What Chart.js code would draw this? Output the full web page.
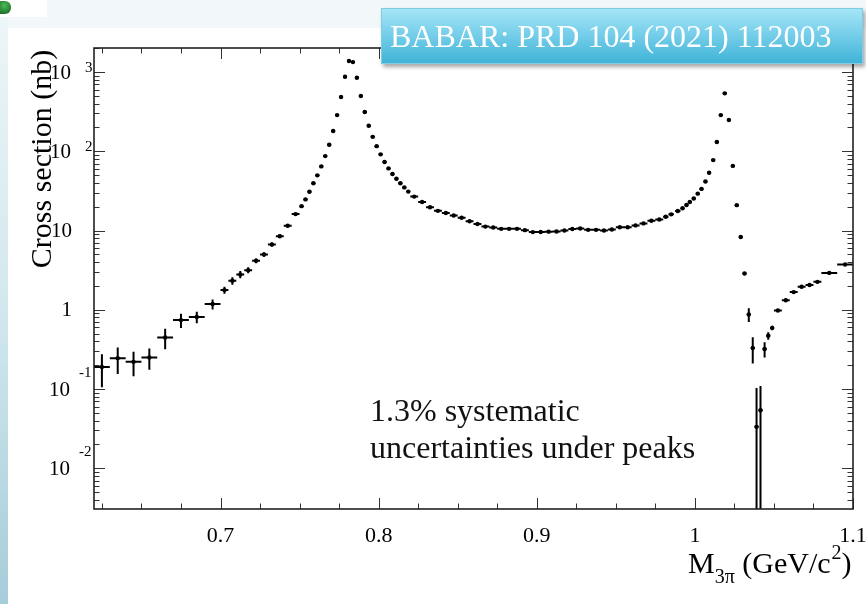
<!DOCTYPE html>
<html>
<head>
<meta charset="utf-8">
<script src="https://cdn.jsdelivr.net/npm/chart.js@4.4.1/dist/chart.umd.min.js"></script>
<style>
html, body { margin:0; padding:0; }
body { width:866px; height:604px; position:relative; overflow:hidden; background:#f2f8fa; font-family:"Liberation Serif", serif; }
#strip { position:absolute; left:0; top:0; width:8px; height:604px; background:linear-gradient(to bottom,#eef6f8 0%,#d3e8ee 50%,#a6cdda 100%); }
#panel { position:absolute; left:8px; top:28px; right:0; bottom:0; background:#fff; }
#logo { position:absolute; left:0; top:0; width:47px; height:17px; background:#fff; }
#logo div { position:absolute; left:0; top:1px; width:11px; height:13px; border-radius:0 6px 6px 0; background:radial-gradient(circle at 40% 35%, #4fb85a, #0f5e1c); }
canvas { position:absolute; left:0; top:0; }
#ref { position:absolute; left:381px; top:8px; width:482px; height:56px; box-sizing:border-box; border:1px solid #7fcde3; background:linear-gradient(to bottom,#a5e5f8,#40b4d8); box-shadow:2px 3px 4px rgba(0,0,0,0.35); color:#fff; font-size:32px; line-height:54px; padding-left:8px; white-space:nowrap; }
#note { position:absolute; left:370px; top:392px; font-size:32px; line-height:37.3px; color:#111; white-space:nowrap; }
</style>
</head>
<body>
<div id="strip"></div>
<div id="panel"></div>
<div id="logo"><div></div></div>
<canvas id="chart" width="866" height="604"></canvas>
<div id="ref">BABAR: PRD 104 (2021) 112003</div>
<div id="note">1.3% systematic<br>uncertainties under peaks</div>
<script>
// e+e- -> 3pi cross section
const mass = [
  0.625, 0.635, 0.645, 0.655, 0.665, 0.675, 0.685, 0.695,
  0.7025, 0.7075, 0.7125, 0.7175, 0.7225, 0.7275, 0.7325, 0.7375, 0.7425, 0.7475,
  0.75125, 0.75375, 0.75625, 0.75875, 0.76125, 0.76375, 0.76625, 0.76875, 0.77125, 0.77375,
  0.77625, 0.77875, 0.78125, 0.78375, 0.78625, 0.78875, 0.79125, 0.79375, 0.79625, 0.79875,
  0.80125, 0.80375, 0.80625, 0.80875, 0.81125, 0.81375, 0.81625, 0.81875,
  0.8225, 0.8275, 0.8325, 0.8375, 0.8425, 0.8475, 0.8525, 0.8575, 0.8625, 0.8675,
  0.8725, 0.8775, 0.8825, 0.8875, 0.8925, 0.8975, 0.9025, 0.9075, 0.9125, 0.9175,
  0.9225, 0.9275, 0.9325, 0.9375, 0.9425, 0.9475, 0.9525, 0.9575, 0.9625, 0.9675,
  0.9725, 0.9775,
  0.9816, 0.985, 0.9892, 0.9922, 0.9947, 0.9968, 0.9993, 1.0018, 1.0042, 1.0067,
  1.009, 1.0116, 1.0139, 1.0164, 1.0189, 1.0215, 1.024, 1.0265, 1.029, 1.0314,
  1.0341, 1.0366, 1.039, 1.0415, 1.0441, 1.0464, 1.0489,
  1.0525, 1.0575, 1.0625, 1.0675, 1.0725, 1.0775, 1.085, 1.095
];
const xsec = [
  0.19, 0.245, 0.22, 0.25, 0.447, 0.74, 0.81, 1.18,
  1.77, 2.32, 2.79, 3.16, 4.15, 4.99, 6.67, 8.49, 11.5, 16.1,
  20.3, 24.7, 30.8, 39.4, 49.7, 64.4, 86.9, 120.8, 180, 286,
  483, 873, 1377, 1335, 848, 498, 313, 210, 152, 116,
  91.4, 73.1, 60.8, 51.6, 45, 39.4, 35, 31,
  26.8, 22.9, 19.7, 17.7, 16.6, 15.5, 14.5, 13.1, 12.1, 11.2,
  10.9, 10.5, 10.5, 10.5, 10.1, 9.55, 9.58, 9.68, 9.72, 9.99,
  10.45, 10.6, 10.2, 10.2, 10.0, 10.3, 11.0, 11.0, 11.6, 12.3,
  13.3, 13.8,
  14.9, 16.0, 17.6, 19.1, 21.0, 22.9, 25.3, 29.2, 33.5, 41.6,
  53.5, 77.4, 131, 286, 538, 248, 65.4, 20.9, 8.3, 2.87,
  0.873, 0.33, 0.0333, 0.054, 0.32, 0.469, 0.59,
  0.98, 1.32, 1.67, 1.95, 2.05, 2.25, 2.92, 3.73
];
const xsecErr = [
  0.085, 0.09, 0.075, 0.075, 0.13, 0.15, 0.135, 0.17,
  0.18, 0.25, 0.3, 0.28, 0.3, 0.33, 0.4, 0.5, 0.5, 0.6,
  0.6, 0.7, 0.8, 0.9, 1.1, 1.3, 1.6, 2.1, 3, 4.5,
  7, 12, 18, 18, 12, 7, 4.5, 3.2, 2.4, 1.9,
  1.6, 1.3, 1.1, 1.0, 0.9, 0.8, 0.7, 0.7,
  0.5, 0.45, 0.4, 0.35, 0.35, 0.3, 0.3, 0.3, 0.3, 0.25,
  0.25, 0.25, 0.25, 0.25, 0.25, 0.25, 0.25, 0.25, 0.25, 0.25,
  0.25, 0.25, 0.25, 0.25, 0.25, 0.25, 0.25, 0.25, 0.25, 0.25,
  0.25, 0.25,
  0.35, 0.4, 0.4, 0.45, 0.5, 0.5, 0.55, 0.6, 0.7, 0.8,
  1.0, 1.4, 2.2, 4, 7, 4, 1.3, 0.6, 0.3, 0.12,
  0.17, 0.12, 0.07, 0.055, 0.07, 0.05, 0.04,
  0.04, 0.06, 0.07, 0.08, 0.08, 0.08, 0.08, 0.1
];
// half bin widths
const binHalf = [
  0.005, 0.005, 0.005, 0.005, 0.005, 0.005, 0.005, 0.005,
  0.0025, 0.0025, 0.0025, 0.0025, 0.0025, 0.0025, 0.0025, 0.0025, 0.0025, 0.0025,
  0.00125, 0.00125, 0.00125, 0.00125, 0.00125, 0.00125, 0.00125, 0.00125, 0.00125, 0.00125,
  0.00125, 0.00125, 0.00125, 0.00125, 0.00125, 0.00125, 0.00125, 0.00125, 0.00125, 0.00125,
  0.00125, 0.00125, 0.00125, 0.00125, 0.00125, 0.00125, 0.00125, 0.00125,
  0.0025, 0.0025, 0.0025, 0.0025, 0.0025, 0.0025, 0.0025, 0.0025, 0.0025, 0.0025,
  0.0025, 0.0025, 0.0025, 0.0025, 0.0025, 0.0025, 0.0025, 0.0025, 0.0025, 0.0025,
  0.0025, 0.0025, 0.0025, 0.0025, 0.0025, 0.0025, 0.0025, 0.0025, 0.0025, 0.0025,
  0.0025, 0.0025,
  0.0017, 0.0017, 0.0017, 0.00125, 0.00125, 0.00125, 0.00125, 0.00125, 0.00125, 0.00125,
  0.00125, 0.00125, 0.00125, 0.00125, 0.00125, 0.00125, 0.00125, 0.00125, 0.00125, 0.00125,
  0.00125, 0.00125, 0.00125, 0.00125, 0.00125, 0.00125, 0.00125,
  0.0025, 0.0025, 0.0025, 0.0025, 0.0025, 0.0025, 0.005, 0.005
];

const xTicks = [0.7, 0.8, 0.9, 1.0, 1.1];
const xTickLabels = ['0.7', '0.8', '0.9', '1', '1.1'];
const yTicks = [1000, 100, 10, 1, 0.1, 0.01];
const yTickBase = ['10', '10', '10', '1', '10', '10'];
const yTickExp = ['3', '2', '', '', '-1', '-2'];

const serif = '"Liberation Serif", "Times New Roman", serif';

const rootFrame = {
  id: 'rootFrame',
  beforeDatasetsDraw(chart) {
    const {ctx, chartArea: a, scales: {x, y}} = chart;
    ctx.save();
    ctx.beginPath();
    ctx.rect(a.left, a.top, a.right - a.left, a.bottom - a.top);
    ctx.clip();
    ctx.strokeStyle = '#000';
    ctx.lineWidth = 2;
    ctx.beginPath();
    for (let i = 0; i < mass.length; i++) {
      const px = x.getPixelForValue(mass[i]);
      const py = y.getPixelForValue(xsec[i]);
      const lo = xsec[i] - xsecErr[i];
      const top = y.getPixelForValue(xsec[i] + xsecErr[i]);
      const bot = lo > 0 ? y.getPixelForValue(lo) : a.bottom;
      ctx.moveTo(px, top);
      ctx.lineTo(px, bot);
      ctx.moveTo(x.getPixelForValue(mass[i] - binHalf[i]), py);
      ctx.lineTo(x.getPixelForValue(mass[i] + binHalf[i]), py);
    }
    ctx.stroke();
    ctx.restore();
  },
  afterDraw(chart) {
    const {ctx, chartArea: a, scales: {x, y}} = chart;
    ctx.save();
    ctx.strokeStyle = '#333';
    ctx.lineWidth = 1;
    ctx.beginPath();
    // x ticks every 0.025, major every 0.1
    for (let i = 25; i <= 44; i++) {
      const px = Math.round(x.getPixelForValue(i * 0.025)) + 0.5;
      const len = i % 4 === 0 ? 11 : 5.5;
      ctx.moveTo(px, a.bottom); ctx.lineTo(px, a.bottom - len);
      ctx.moveTo(px, a.top); ctx.lineTo(px, a.top + len);
    }
    // y ticks on decades and 2..9
    for (let k = -3; k <= 3; k++) {
      for (let m = 1; m <= 9; m++) {
        const v = m * Math.pow(10, k);
        if (v < y.min || v > y.max) continue;
        const py = Math.round(y.getPixelForValue(v)) + 0.5;
        const len = m === 1 ? 11 : 5.5;
        ctx.moveTo(a.left, py); ctx.lineTo(a.left + len, py);
        ctx.moveTo(a.right, py); ctx.lineTo(a.right - len, py);
      }
    }
    ctx.stroke();
    ctx.strokeStyle = '#222';
    ctx.lineWidth = 1.6;
    ctx.strokeRect(a.left, a.top, a.right - a.left, a.bottom - a.top);

    ctx.fillStyle = '#000';
    // x tick labels
    ctx.font = '22px ' + serif;
    ctx.textAlign = 'center';
    ctx.textBaseline = 'alphabetic';
    xTicks.forEach((v, i) => ctx.fillText(xTickLabels[i], x.getPixelForValue(v), a.bottom + 33));

    // y tick labels, ROOT style 10^n
    yTicks.forEach((v, i) => {
      const py = y.getPixelForValue(v);
      const e = yTickExp[i];
      ctx.font = '21px ' + serif;
      ctx.textAlign = 'right';
      ctx.textBaseline = 'middle';
      if (e === '') {
        ctx.fillText(yTickBase[i], a.left - 22, py + 1);
        return;
      }
      const neg = e.charAt(0) === '-';
      ctx.fillText(yTickBase[i], a.left - (neg ? 24 : 23), py + 1);
      ctx.font = '15px ' + serif;
      ctx.textAlign = 'left';
      ctx.textBaseline = 'alphabetic';
      ctx.fillText(e, a.left - (neg ? 15 : 9), neg ? py - 12 : py);
    });

    // axis titles
    ctx.textAlign = 'left';
    ctx.textBaseline = 'alphabetic';
    let cx = 688;
    const by = 573;
    ctx.font = '30px ' + serif;
    ctx.fillText('M', cx, by); cx += ctx.measureText('M').width;
    ctx.font = '20px ' + serif;
    ctx.fillText('3\u03c0', cx, by + 10); cx += ctx.measureText('3\u03c0').width;
    ctx.font = '30px ' + serif;
    ctx.fillText(' (GeV/c', cx, by); cx += ctx.measureText(' (GeV/c').width;
    ctx.font = '20px ' + serif;
    ctx.fillText('2', cx + 1, by - 14); cx += ctx.measureText('2').width + 1;
    ctx.font = '30px ' + serif;
    ctx.fillText(')', cx, by);

    ctx.translate(51, 159);
    ctx.rotate(-Math.PI / 2);
    ctx.textAlign = 'center';
    ctx.fillText('Cross section (nb)', 0, 0);
    ctx.restore();
  }
};

const ctx = document.getElementById('chart').getContext('2d');
const chart = new Chart(ctx, {
  type: 'scatter',
  data: {
    datasets: [{
      label: 'BABAR',
      data: mass.map((m, i) => ({x: m, y: xsec[i]})),
      backgroundColor: '#000',
      borderWidth: 0,
      pointRadius: 2.2,
      pointHoverRadius: 2.2
    }]
  },
  options: {
    responsive: false,
    animation: false,
    devicePixelRatio: 1,
    layout: {padding: {left: 94, right: 13, top: 48, bottom: 95}},
    plugins: {legend: {display: false}, tooltip: {enabled: false}},
    scales: {
      x: {type: 'linear', min: 0.62, max: 1.1, display: false},
      y: {type: 'logarithmic', min: 0.00306, max: 2010, display: false}
    }
  },
  plugins: [rootFrame]
});
</script>
</body>
</html>
